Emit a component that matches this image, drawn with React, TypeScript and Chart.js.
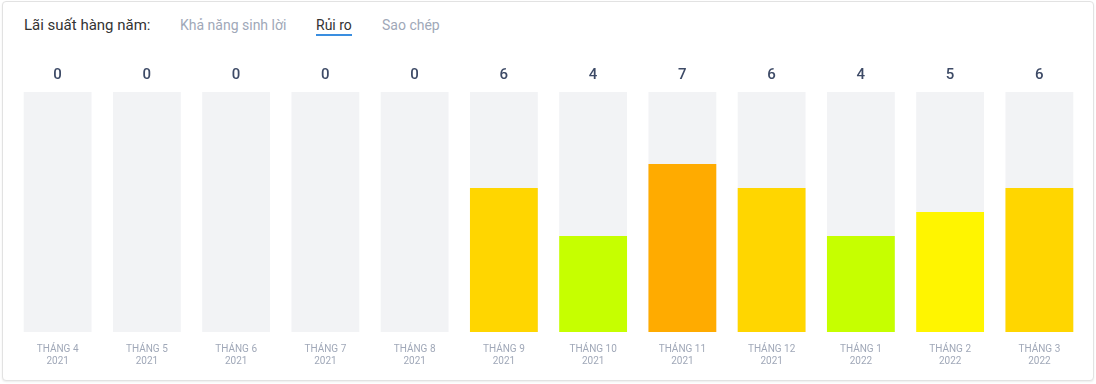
import React, { useEffect, useRef } from "react";
import { Chart, registerables } from "chart.js";

Chart.register(...registerables);

const months = ["THÁNG 4", "THÁNG 5", "THÁNG 6", "THÁNG 7", "THÁNG 8", "THÁNG 9", "THÁNG 10", "THÁNG 11", "THÁNG 12", "THÁNG 1", "THÁNG 2", "THÁNG 3"];
const years = ["2021", "2021", "2021", "2021", "2021", "2021", "2021", "2021", "2021", "2022", "2022", "2022"];
const riskValues = [0, 0, 0, 0, 0, 6, 4, 7, 6, 4, 5, 6];
const maxRisk = 10;
const tabs = ["Khả năng sinh lời", "Rủi ro", "Sao chép"];

const colorFor = (v: number) => {
  if (v >= 7) return "#ffab00";
  if (v === 6) return "#ffd600";
  if (v === 5) return "#fff500";
  return "#c6ff00";
};

export default function App() {
  const ref = useRef<HTMLCanvasElement>(null);
  useEffect(() => {
    document.body.style.margin = "0";
    const valueLabels = {
      id: "valueLabels",
      afterDatasetsDraw(chart: any) {
        const ctx = chart.ctx;
        const meta = chart.getDatasetMeta(0);
        ctx.save();
        ctx.font = "500 15px Roboto";
        ctx.fillStyle = "#3d4a66";
        ctx.textAlign = "center";
        ctx.textBaseline = "middle";
        meta.data.forEach((bar: any, i: number) => {
          ctx.fillText(String(riskValues[i]), bar.x, chart.chartArea.top - 17);
        });
        ctx.restore();
      },
    };
    const chart = new Chart(ref.current!, {
      type: "bar",
      data: {
        labels: months.map((m, i) => [m, years[i]]),
        datasets: [
          {
            data: riskValues,
            backgroundColor: riskValues.map(colorFor),
            order: 0,
            grouped: false,
            barPercentage: 0.76,
            categoryPercentage: 1,
          } as any,
          {
            data: riskValues.map(() => maxRisk),
            backgroundColor: "#f2f3f5",
            order: 1,
            grouped: false,
            barPercentage: 0.76,
            categoryPercentage: 1,
          } as any,
        ],
      },
      options: {
        animation: false,
        responsive: false,
        layout: { padding: { top: 92, left: 13, right: 12, bottom: 0 } },
        plugins: { legend: { display: false }, tooltip: { enabled: false } },
        scales: {
          x: {
            grid: { display: false, drawTicks: false },
            border: { display: false },
            ticks: {
              color: "#a0a8b8",
              font: { family: "Roboto", size: 10, lineHeight: 1.25 },
              padding: 11,
              maxRotation: 0,
              autoSkip: false,
            },
            afterFit: (s: any) => {
              s.height = 52;
            },
          },
          y: { display: false, min: 0, max: maxRisk },
        },
      },
      plugins: [valueLabels],
    });
    return () => chart.destroy();
  }, []);

  return (
    <div style={{ position: "relative", width: 1096, height: 384, fontFamily: "Roboto", overflow: "hidden" }}>
      <div
        style={{
          position: "absolute",
          left: 2,
          top: 1,
          width: 1090,
          height: 378,
          border: "1px solid #e2e2e2",
          borderRadius: 4,
          boxShadow: "0 1px 2px rgba(0,0,0,0.08)",
          background: "#fff",
        }}
      />
      <div style={{ position: "absolute", left: 24, top: 16, fontSize: 15, color: "#333", lineHeight: "18px" }}>
        Lãi suất hàng năm:
      </div>
      {tabs.map((t, i) => (
        <div
          key={t}
          style={{
            position: "absolute",
            left: [180, 316, 382][i],
            top: 16,
            fontSize: 14,
            lineHeight: "18px",
            color: i === 1 ? "#333" : "#a0a8b8",
          }}
        >
          {t}
          {i === 1 && (
            <div style={{ position: "absolute", left: 0, right: 0, top: 18, height: 2, background: "#3a8ee0" }} />
          )}
        </div>
      ))}
      <canvas ref={ref} width={1096} height={384} style={{ position: "absolute", left: 0, top: 0 }} />
    </div>
  );
}
